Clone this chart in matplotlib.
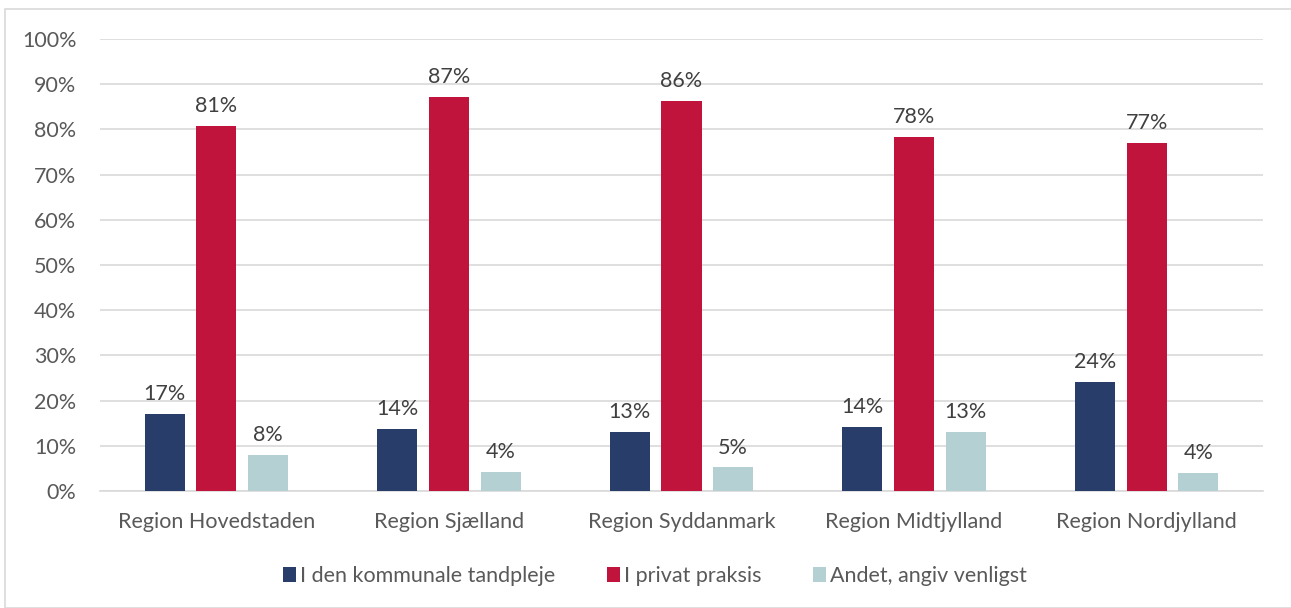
import matplotlib.pyplot as plt
import numpy as np
from matplotlib.patches import Rectangle

plt.rcParams['font.family'] = ['Lato', 'DejaVu Sans']

regions = ["Region Hovedstaden", "Region Sjælland", "Region Syddanmark",
           "Region Midtjylland", "Region Nordjylland"]
kommunal = [17.1, 13.7, 13.1, 14.2, 24.1]
privat = [80.7, 87.2, 86.3, 78.3, 76.9]
andet = [7.9, 4.3, 5.2, 13.1, 3.9]
series_names = ["I den kommunale tandpleje", "I privat praksis", "Andet, angiv venligst"]
colors = ["#283D6A", "#C0143C", "#B4D0D3"]
grey = "#595959"

fig = plt.figure(figsize=(12.91, 6.08), dpi=100)
ax = fig.add_axes([100 / 1291, 1 - 491 / 608, (1263 - 100) / 1291, (491 - 39) / 608])

# outer chart border
fig.patches.append(Rectangle((5 / 1291, 0), 1.1, (608 - 9) / 608, transform=fig.transFigure,
                             fill=False, edgecolor="#D9D9D9", linewidth=1.2))

x = np.arange(len(regions))
w = 0.172
step = 0.222
for i, (vals, name, col) in enumerate(zip([kommunal, privat, andet], series_names, colors)):
    pos = x + (i - 1) * step
    ax.bar(pos, vals, width=w, color=col, label=name, zorder=3)
    for p, v in zip(pos, vals):
        ax.text(p, v + 2.2, f"{round(v)}%", ha="center", va="bottom",
                fontsize=15.5, color="#404040")

ax.set_ylim(0, 100)
ax.set_xlim(-0.5, len(regions) - 0.5)
ax.set_yticks(range(0, 101, 10))
ax.set_yticklabels([f"{t}%" for t in range(0, 101, 10)])
ax.set_xticks(x)
ax.set_xticklabels(regions)
ax.tick_params(axis="both", length=0, labelsize=15.5, colors=grey)
ax.tick_params(axis="y", pad=17)
ax.tick_params(axis="x", pad=15)
ax.yaxis.grid(True, color="#D9D9D9", linewidth=1.2, zorder=0)
for s in ["top", "right", "left"]:
    ax.spines[s].set_visible(False)
ax.spines["bottom"].set_color("#D9D9D9")
ax.spines["bottom"].set_linewidth(1.2)

leg = fig.legend(loc="center", bbox_to_anchor=(655 / 1291, 1 - 576 / 608), ncol=3,
                 frameon=False, fontsize=15.5, handlelength=0.6, handleheight=0.65,
                 handletextpad=0.2, columnspacing=2.4)
for t in leg.get_texts():
    t.set_color(grey)

fig.savefig("out.png", dpi=100)
